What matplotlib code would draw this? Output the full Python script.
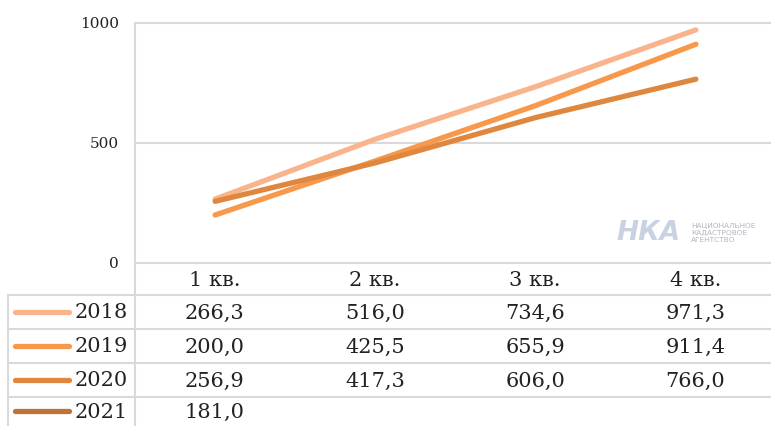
import matplotlib
matplotlib.use("Agg")
import matplotlib.pyplot as plt

categories = ["1 кв.", "2 кв.", "3 кв.", "4 кв."]
series_names = ["2018", "2019", "2020", "2021"]
values_2018 = [266.3, 516.0, 734.6, 971.3]
values_2019 = [200.0, 425.5, 655.9, 911.4]
values_2020 = [256.9, 417.3, 606.0, 766.0]
values_2021 = [181.0]
series_values = [values_2018, values_2019, values_2020, values_2021]
colors = ["#F9B48C", "#F7984A", "#E0873F", "#BF7437"]
y_ticks = [0, 500, 1000]

W, H = 771, 426
DPI = 100
plt.rcParams["font.family"] = ["DejaVu Serif"]
fig = plt.figure(figsize=(W / DPI, H / DPI), dpi=DPI)
fig.patch.set_facecolor("white")

grid_c = "#D9D9D9"
text_c = "#222222"

# plot area in pixels (extends slightly past the right edge, like the source)
L, R, T, B = 135, 776, 23, 263
ax = fig.add_axes([L / W, 1 - B / H, (R - L) / W, (B - T) / H])
ax.set_xlim(-0.5, len(categories) - 0.5)
ax.set_ylim(0, 1000)
for s in ax.spines.values():
    s.set_visible(False)
ax.set_xticks([])
ax.set_yticks(y_ticks)
ax.set_yticklabels([str(t) for t in y_ticks], fontsize=11, color=text_c)
ax.tick_params(axis="y", length=0, pad=11.5)
for t in y_ticks:
    ax.axhline(t, color=grid_c, lw=1.5, zorder=0, clip_on=False)

for vals, c in zip(series_values, colors):
    ax.plot(range(len(vals)), vals, color=c, lw=3.8, solid_capstyle="round", zorder=3)

# watermark
ax.text(0.801, 0.125, "НКА", transform=ax.transAxes, fontsize=19, fontweight="bold",
        style="italic", family="DejaVu Sans", color="#C9D2E2", ha="center", va="center")
ax.text(0.868, 0.125, "НАЦИОНАЛЬНОЕ\nКАДАСТРОВОЕ\nАГЕНТСТВО", transform=ax.transAxes,
        fontsize=5.3, family="DejaVu Sans", color="#B4B6C0", ha="left", va="center",
        linespacing=1.25)

# overlay for the data table
ov = fig.add_axes([0, 0, 1, 1], zorder=5)
ov.set_xlim(0, W)
ov.set_ylim(H, 0)
ov.axis("off")
ov.patch.set_alpha(0)

row_lines = [295, 329, 363, 397]
for y in row_lines:
    ov.plot([8, W], [y, y], color=grid_c, lw=1.5)
ov.plot([L, L], [T, H], color=grid_c, lw=1.5)
ov.plot([8, 8], [row_lines[0], H], color=grid_c, lw=1.5)

col_w = (R - L) / len(categories)
for i, cat in enumerate(categories):
    ov.text(L + col_w * (i + 0.5) - 0.5, (B + row_lines[0]) / 2 + 1, cat, fontsize=15,
            ha="center", va="center", color=text_c)

row_centers = [(row_lines[i] + (row_lines[i + 1] if i + 1 < len(row_lines) else 426)) / 2
               for i in range(len(row_lines))]
row_centers[-1] = 411
for name, vals, c, yc in zip(series_names, series_values, colors, row_centers):
    ov.plot([15, 69], [yc, yc], color=c, lw=3.8, solid_capstyle="round")
    ov.text(128, yc + 1, name, fontsize=15, ha="right", va="center", color=text_c)
    for i, v in enumerate(vals):
        ov.text(L + col_w * (i + 0.5) - 0.5, yc + 1, f"{v:.1f}".replace(".", ","), fontsize=15,
                ha="center", va="center", color=text_c)

fig.savefig("out.png", dpi=DPI, facecolor="white")
